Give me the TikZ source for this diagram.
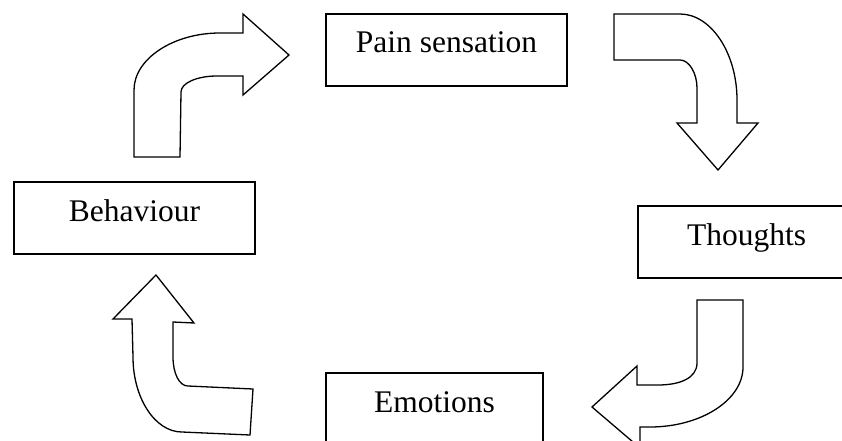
\documentclass[tikz,border=0pt]{standalone}
\usepackage{fontspec}
\setmainfont{Liberation Serif}
\begin{document}
\begin{tikzpicture}[x=1pt,y=-1pt,
  stagebox/.style={draw=black, line width=1.4pt, fill=white, rectangle,
    inner sep=0pt, minimum height=72pt, text height=20pt, text depth=14pt,
    font=\fontsize{31.5}{36}\selectfont},
  bentarrow/.style={draw=black, line width=1.3pt, fill=white, line join=miter}]
\useasboundingbox (0,0) rectangle (842,441);
\clip (0,0) rectangle (842,441);

% stages of the cycle
\node[stagebox, minimum width=241pt] (pain) at (446.5,50) {Pain sensation};
\node[stagebox, minimum width=217pt] (thoughts) at (746.5,242) {Thoughts};
\node[stagebox, minimum width=217pt] (emotions) at (434.5,409) {Emotions};
\node[stagebox, minimum width=241pt] (behaviour) at (134.5,218) {Behaviour};

% bent block arrow: behaviour -> pain sensation
\draw[bentarrow] (134,157) -- (134,90)
  .. controls (134,59) and (173,33) .. (220,33)
  -- (243,33) -- (243,14) -- (289,55) -- (243,95) -- (243,76) -- (217,76)
  .. controls (197,76) and (181,83) .. (181,92)
  -- (180,157) -- cycle;

% bent block arrow: pain sensation -> thoughts
\draw[bentarrow] (614,14) -- (680,14)
  .. controls (711,14) and (737,53) .. (737,100)
  -- (737,123) -- (758,123) -- (718,170) -- (677,123) -- (697,123) -- (697,88)
  .. controls (697,73) and (689,60) .. (680,60)
  -- (614,60) -- cycle;

% bent block arrow: thoughts -> emotions
\draw[bentarrow] (697,300) -- (743,300) -- (743,367)
  .. controls (743,400) and (701,427) .. (650,427)
  -- (640,427) -- (640,448) -- (592,407) -- (637,366) -- (637,385) -- (658,385)
  .. controls (680,385) and (697,378) .. (697,363)
  -- cycle;

% bent block arrow: emotions -> behaviour
\draw[bentarrow] (156,275) -- (194,323) -- (173,322) -- (173,357)
  .. controls (173,373) and (179,386) .. (188,386)
  -- (253,389) -- (250,435) -- (182,432)
  .. controls (155,432) and (133,398) .. (133,357)
  -- (132,319) -- (113,319) -- cycle;
\end{tikzpicture}
\end{document}
